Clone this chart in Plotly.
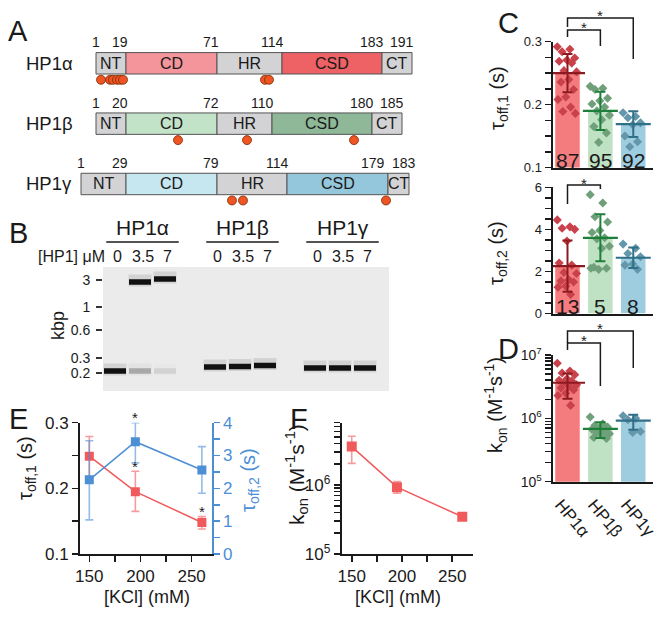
import plotly.graph_objects as go

W, H = 665, 617
FONT = "Liberation Sans, Arial, Helvetica, sans-serif"
INK = "#1a1a1a"


def fx(p):
    return p / W


def fy(p):
    return 1 - p / H


# ---------------- Panel A: domain maps ----------------
isoforms = ["HP1α", "HP1β", "HP1γ"]
domain_names = ["NT", "CD", "HR", "CSD", "CT"]
residues_a = [1, 19, 71, 114, 183, 191]
residues_b = [1, 20, 72, 110, 180, 185]
residues_g = [1, 29, 79, 114, 179, 183]
# schematic (non-linear) drawing coordinates of the same boundaries
schem_a = [96, 126, 217, 282, 382, 412]
schem_b = [96, 126, 217, 272, 372, 402]
schem_g = [81, 126, 217, 287, 388, 409]
sites_a = [101, 110, 113, 117, 120, 123, 265, 269]
sites_b = [178, 247, 354]
sites_g = [232, 243, 386]

# ---------------- Panel B: gel ----------------
gel_groups = ["HP1α", "HP1β", "HP1γ"]
gel_lanes = [1, 2, 3, 5, 6, 7, 9, 10, 11]
gel_conc = ["0", "3.5", "7", "0", "3.5", "7", "0", "3.5", "7"]
ladder_kbp = ["3", "1", "0.6", "0.3", "0.2"]
ladder_mig = [13, 40, 63, 91, 106]
band_lane = [1, 2, 2, 3, 3, 5, 6, 7, 9, 10, 11]
band_mig = [104, 15, 104, 12, 104, 100, 99.5, 98.5, 101, 101, 101]
band_int = [1.0, 1.0, 0.3, 1.0, 0.1, 1.0, 1.0, 1.0, 1.0, 1.0, 1.0]

# ---------------- Panels C / D ----------------
groups = ["HP1α", "HP1β", "HP1γ"]
tau1_mean = [0.250, 0.190, 0.169]
tau1_sd = [0.0305, 0.0305, 0.0205]
tau1_n = [87, 95, 92]
tau1_pts_a = [0.292, 0.288, 0.284, 0.274, 0.271, 0.269, 0.266, 0.254, 0.252,
              0.240, 0.236, 0.224, 0.212, 0.208, 0.196, 0.189, 0.186]
tau1_pts_b = [0.229, 0.226, 0.224, 0.210, 0.206, 0.201, 0.196, 0.190, 0.183,
              0.176, 0.165, 0.155, 0.140]
tau1_pts_g = [0.187, 0.181, 0.179, 0.171, 0.168, 0.150, 0.141, 0.133]

tau2_mean = [2.25, 3.60, 2.65]
tau2_sd = [1.22, 1.12, 0.49]
tau2_n = [13, 5, 8]
tau2_pts_a = [4.45, 4.12, 4.05, 4.0, 3.45, 2.4, 2.3, 1.95, 1.9, 1.6, 1.55,
              1.5, 1.3, 1.25, 0.9]
tau2_pts_b = [5.65, 5.25, 4.6, 4.35, 3.95, 3.85, 3.6, 3.55, 3.2, 3.1, 2.2,
              2.15, 2.1, 2.15]
tau2_pts_g = [3.3, 3.1, 2.85, 2.7, 2.35, 2.3, 2.1]

kon_mean = [3.65e6, 6.8e5, 9.2e5]
kon_hi = [5.1e6, 8.7e5, 1.14e6]
kon_lo = [2.03e6, 4.9e5, 6.6e5]
kon_pts_a = [7.4e6, 5.6e6, 5.2e6, 4.9e6, 4.2e6, 4.0e6, 3.9e6, 3.7e6, 3.4e6,
             3.2e6, 3.0e6, 2.8e6, 2.5e6, 2.3e6, 1.6e6]
kon_pts_b = [1.05e6, 8.2e5, 7.8e5, 7.3e5, 7.0e5, 6.7e5, 6.3e5, 6.0e5, 5.7e5,
             5.4e5, 5.0e5, 4.8e5]
kon_pts_g = [1.1e6, 1.0e6, 9.5e5, 6.2e5, 6.0e5]

# ---------------- Panels E / F ----------------
kcl = [150, 195, 260]
e_tau1 = [0.249, 0.195, 0.148]
e_tau1_hi = [0.279, 0.226, 0.157]
e_tau1_lo = [0.218, 0.165, 0.138]
e_tau1_sig = [False, True, True]
e_tau2 = [2.26, 3.42, 2.56]
e_tau2_hi = [3.45, 4.0, 3.27]
e_tau2_lo = [1.04, 2.78, 1.85]
e_tau2_sig = [False, True, False]
f_kon = [3.6e6, 9.3e5, 3.47e5]
f_kon_hi = [5.1e6, 1.12e6, 3.9e5]
f_kon_lo = [2.06e6, 7.6e5, 3.1e5]
f_kon_sig = [False, True, True]

# ---------------- styles ----------------
GRAY = "#D3D3D5"
seg_colors = [
    [GRAY, "#F4959B", GRAY, "#EE6164", GRAY],
    [GRAY, "#C3E3C8", GRAY, "#8EB897", GRAY],
    [GRAY, "#C6E6F0", GRAY, "#94C7DB", GRAY],
]
bar_colors = ["#F47C7E", "#BFE1C4", "#9DCDDF"]
dot_colors = ["#C9424B", "#6FA07A", "#6497AB"]
err_colors = ["#8C1A20", "#1E7F3A", "#2F6F88"]
RED = "#F05A5D"
BLUE = "#4D8FD5"

fig = go.Figure()
annotations = []
shapes = []


def ann(x, y, text, size, xref="paper", yref="paper", **kw):
    d = dict(x=x, y=y, xref=xref, yref=yref, text=text, showarrow=False,
             xanchor="center", yanchor="middle", borderpad=0,
             font=dict(family=FONT, size=size, color=kw.pop("color", INK)))
    d.update(kw)
    annotations.append(d)


# ================= Panel A =================
residues = [residues_a, residues_b, residues_g]
schems = [schem_a, schem_b, schem_g]
sites = [sites_a, sites_b, sites_g]
for i, (res, sch) in enumerate(zip(residues, schems)):
    starts = sch[:-1]
    lengths = [b - a for a, b in zip(sch[:-1], sch[1:])]
    fig.add_trace(go.Bar(
        y=[i] * 5, x=lengths, base=starts, orientation="h", width=0.355,
        marker=dict(color=seg_colors[i], line=dict(color="#555555", width=1)),
        xaxis="x", yaxis="y", hoverinfo="skip"))
    for k, name in enumerate(domain_names):
        ann((sch[k] + sch[k + 1]) / 2, i, name, 16, xref="x", yref="y")
    for k, (r, s) in enumerate(zip(res, sch)):
        if k == 0:
            ann(s, i, str(r), 14, xref="x", yref="y", yshift=21)
        else:
            shift = 3
            if k == len(sch) - 1:
                shift += max(0, 26 - (sch[-1] - sch[-2]))
            elif k == len(sch) - 2:
                shift -= max(0, 26 - (sch[-1] - sch[-2]))
            ann(s, i, str(r), 14, xref="x", yref="y", xanchor="right",
                xshift=shift, yshift=21)
    ann(25, i, isoforms[i], 18.5, xref="x", yref="y", xanchor="left")
    fig.add_trace(go.Scatter(
        x=sites[i], y=[i + 0.273] * len(sites[i]), mode="markers",
        marker=dict(size=9, color="#EE5522", line=dict(color="#7A2A08", width=0.8)),
        xaxis="x", yaxis="y", hoverinfo="skip"))

# ================= Panel B =================
shapes.append(dict(type="rect", xref="x2 domain", yref="y2 domain", x0=0, x1=1,
                   y0=0, y1=1, fillcolor="#EBEBEB", line=dict(width=0),
                   layer="below"))
for ln, mg, it in zip(band_lane, band_mig, band_int):
    halo = "rgba(0,0,0,%.3f)" % (0.10 * it)
    fig.add_trace(go.Scatter(
        x=[ln - 0.46, ln + 0.46], y=[mg - 1.5, mg - 1.5], mode="lines",
        line=dict(color=halo, width=12), xaxis="x2", yaxis="y2",
        hoverinfo="skip"))
    g = int(round(232 - 215 * it))
    fig.add_trace(go.Scatter(
        x=[ln - 0.44, ln + 0.44], y=[mg, mg], mode="lines",
        line=dict(color="rgb(%d,%d,%d)" % (g, g, g), width=5.5),
        xaxis="x2", yaxis="y2", hoverinfo="skip"))
for gi, gname in enumerate(gel_groups):
    lanes = gel_lanes[gi * 3:(gi + 1) * 3]
    c = sum(lanes) / 3
    ann(c + 0.1, fy(228), gname, 21, xref="x2")
    shapes.append(dict(type="line", xref="x2", yref="paper", x0=c - 1.35,
                       x1=c + 1.55, y0=fy(242), y1=fy(242),
                       line=dict(color=INK, width=1.5)))
for ln, cc in zip(gel_lanes, gel_conc):
    ann(ln + 0.1, fy(256), cc, 16, xref="x2")
ann(fx(106), fy(256), "[HP1] μM", 16, xanchor="right")
ann(fx(58), fy(326), "kbp", 18, textangle=-90)

# ================= Panels C / D =================
def jitter(n):
    return [(((k * 0.618034) % 1.0) - 0.5) * 0.62 for k in range(n)]


def bar_panel(xa, ya, means, lo, hi, pts_list):
    for g in range(3):
        fig.add_trace(go.Bar(
            x=[g], y=[means[g]], width=0.745, marker=dict(color=bar_colors[g], line=dict(width=0)),
            xaxis=xa, yaxis=ya, hoverinfo="skip"))
    for g in range(3):
        pts = pts_list[g]
        fig.add_trace(go.Scatter(
            x=[g + j for j in jitter(len(pts))], y=pts, mode="markers",
            marker=dict(symbol="diamond", size=7, color=dot_colors[g]),
            xaxis=xa, yaxis=ya, hoverinfo="skip"))
    for g in range(3):
        fig.add_trace(go.Scatter(
            x=[g], y=[means[g]], mode="markers",
            marker=dict(symbol="line-ew", size=25,
                        line=dict(color=err_colors[g], width=2.2)),
            error_y=dict(type="data", symmetric=False,
                         array=[hi[g] - means[g]], arrayminus=[means[g] - lo[g]],
                         color=err_colors[g], thickness=2, width=5),
            xaxis=xa, yaxis=ya, hoverinfo="skip"))


bar_panel("x3", "y3", tau1_mean,
          [m - s for m, s in zip(tau1_mean, tau1_sd)],
          [m + s for m, s in zip(tau1_mean, tau1_sd)],
          [tau1_pts_a, tau1_pts_b, tau1_pts_g])
bar_panel("x4", "y4", tau2_mean,
          [m - s for m, s in zip(tau2_mean, tau2_sd)],
          [m + s for m, s in zip(tau2_mean, tau2_sd)],
          [tau2_pts_a, tau2_pts_b, tau2_pts_g])
bar_panel("x5", "y5", kon_mean, kon_lo, kon_hi,
          [kon_pts_a, kon_pts_b, kon_pts_g])

for g in range(3):
    ann(g, fy(160), str(tau1_n[g]), 21, xref="x3")
    ann(g, fy(306), str(tau2_n[g]), 21, xref="x4")
    # rotated category labels under panel D
    ann(g, fy(518), groups[g], 17, xref="x5", textangle=50, xshift=5)


def bracket(xa, i, j, ytop, yi, yj, ystar):
    shapes.append(dict(type="path", xref=xa, yref="paper",
                       path="M %g,%g L %g,%g L %g,%g L %g,%g" % (
                           i, fy(yi), i, fy(ytop), j, fy(ytop), j, fy(yj)),
                       line=dict(color=INK, width=1.5)))
    ann((i + j) / 2, fy(ystar), "*", 15, xref=xa)


bracket("x3", 0, 1, 30, 37, 46, 27)
bracket("x3", 0, 2, 18, 27, 59, 15)
bracket("x4", 0, 1, 185, 204, 189, 183)
bracket("x5", 0, 1, 343, 350, 386, 340)
bracket("x5", 0, 2, 331, 343, 368, 328)

ann(fx(498), fy(98), "τ<sub>off,1</sub> (s)", 20, textangle=-90)
ann(fx(497), fy(253), "τ<sub>off,2</sub> (s)", 20, textangle=-90)
ann(fx(495), fy(405), "k<sub>on</sub> (M<sup>-1</sup>s<sup>-1</sup>)", 20, textangle=-90)

# ================= Panel E =================
fig.add_trace(go.Scatter(
    x=kcl, y=e_tau1, mode="lines+markers",
    line=dict(color=RED, width=1.5), marker=dict(symbol="square", size=9, color=RED),
    error_y=dict(type="data", symmetric=False,
                 array=[h - m for h, m in zip(e_tau1_hi, e_tau1)],
                 arrayminus=[m - l for m, l in zip(e_tau1, e_tau1_lo)],
                 color="rgba(240,90,93,0.6)", thickness=1.6, width=4),
    xaxis="x6", yaxis="y6", hoverinfo="skip"))
fig.add_trace(go.Scatter(
    x=kcl, y=e_tau2, mode="lines+markers",
    line=dict(color=BLUE, width=1.5), marker=dict(symbol="square", size=9, color=BLUE),
    error_y=dict(type="data", symmetric=False,
                 array=[h - m for h, m in zip(e_tau2_hi, e_tau2)],
                 arrayminus=[m - l for m, l in zip(e_tau2, e_tau2_lo)],
                 color="rgba(77,143,213,0.6)", thickness=1.6, width=4),
    xaxis="x6", yaxis="y7", hoverinfo="skip"))
for xv, hv, s in zip(kcl, e_tau1_hi, e_tau1_sig):
    if s:
        ann(xv, hv, "*", 15, xref="x6", yref="y6", yshift=5)
for xv, hv, s in zip(kcl, e_tau2_hi, e_tau2_sig):
    if s:
        ann(xv, hv, "*", 15, xref="x6", yref="y7", yshift=5)

ann(fx(26), fy(468), "τ<sub>off,1</sub> (s)", 20, textangle=-90)
ann(fx(249), fy(480), "τ<sub>off,2</sub> (s)", 20, textangle=-90, color=BLUE)
ann(fx(147), fy(597), "[KCl] (mM)", 18)

# ================= Panel F =================
fig.add_trace(go.Scatter(
    x=kcl, y=f_kon, mode="lines+markers",
    line=dict(color=RED, width=1.5), marker=dict(symbol="square", size=10, color=RED),
    error_y=dict(type="data", symmetric=False,
                 array=[h - m for h, m in zip(f_kon_hi, f_kon)],
                 arrayminus=[m - l for m, l in zip(f_kon, f_kon_lo)],
                 color="rgba(240,90,93,0.6)", thickness=1.6, width=4),
    xaxis="x8", yaxis="y8", hoverinfo="skip"))
for xv, hv, s in zip(kcl, f_kon_hi, f_kon_sig):
    if s:
        ann(xv, hv, "*", 15, xref="x8", yref="y8", yshift=8)
ann(fx(297), fy(475), "k<sub>on</sub> (M<sup>-1</sup>s<sup>-1</sup>)", 21, textangle=-90)
ann(fx(398), fy(597), "[KCl] (mM)", 18)

# ================= panel letters =================
for letter, (lx, ly) in zip("ABCDEF", [(18, 31), (18, 233), (508, 23),
                                       (508, 349), (18, 419), (299, 419)]):
    ann(fx(lx), fy(ly), letter, 29)

# ================= axes =================
hidden = dict(visible=False, showgrid=False, zeroline=False, fixedrange=True,
              automargin=False)
tickf = lambda s, c=INK: dict(family=FONT, size=s, color=c)
axis_common = dict(showgrid=False, zeroline=False, showline=True, linecolor=INK,
                   linewidth=2, ticks="outside", ticklen=6, tickwidth=1.5,
                   tickcolor=INK, automargin=False)
xbar_common = dict(showgrid=False, zeroline=False, showline=True, linecolor=INK,
                   linewidth=2, ticks="", automargin=False, showticklabels=False)

CX = [fx(552.5), fx(653)]
log_ticks = [m * 10 ** e for e in (5, 6) for m in range(1, 10)] + [1e7]
log_text = ["10<sup>%d</sup>" % (5 + i // 9) if i % 9 == 0 else "" for i in range(18)] + ["10<sup>7</sup>"]

layout_axes = dict(
    xaxis=dict(domain=[0, fx(440)], range=[0, 440], anchor="y", **hidden),
    yaxis=dict(domain=[fy(210), 1], range=[2.431, -1.049], anchor="x", **hidden),
    xaxis2=dict(domain=[fx(103), fx(389)], range=[0.52, 11.96], anchor="y2", **hidden),
    yaxis2=dict(domain=[fy(391), fy(267)], range=[124, 0], anchor="x2",
                showgrid=False, zeroline=False, showline=False, ticks="outside",
                ticklen=6, tickwidth=1.3, tickcolor="#333333",
                tickvals=ladder_mig, ticktext=ladder_kbp, tickfont=tickf(14),
                ticklabelstandoff=3, automargin=False),
    xaxis3=dict(domain=CX, range=[-0.456, 2.6], anchor="y3", **xbar_common),
    yaxis3=dict(domain=[fy(167.5), fy(41.7)], range=[0.1, 0.3], anchor="x3",
                tickvals=[0.1 + 0.025 * k for k in range(9)],
                ticktext=["0.1", "", "", "", "0.2", "", "", "", "0.3"],
                tickfont=tickf(13), **axis_common),
    xaxis4=dict(domain=CX, range=[-0.456, 2.6], anchor="y4", **xbar_common),
    yaxis4=dict(domain=[fy(313.5), fy(187.3)], range=[0, 6], anchor="x4",
                tickvals=[0.5 * k for k in range(13)],
                ticktext=[str(k // 2) if k % 4 == 0 else "" for k in range(13)],
                tickfont=tickf(13), **axis_common),
    xaxis5=dict(domain=CX, range=[-0.456, 2.6], anchor="y5", **xbar_common),
    yaxis5=dict(domain=[fy(481.7), fy(355)], type="log", range=[5, 7], anchor="x5",
                tickvals=log_ticks, ticktext=log_text, tickfont=tickf(14),
                **axis_common),
    xaxis6=dict(domain=[fx(80), fx(211.7)], range=[140.9, 269.6], anchor="y6",
                tickvals=[150, 175, 200, 225, 250],
                ticktext=["150", "", "200", "", "250"], tickfont=tickf(17),
                **axis_common),
    yaxis6=dict(domain=[fy(554), fy(422.7)], range=[0.1, 0.3], anchor="x6",
                tickvals=[0.1, 0.15, 0.2, 0.25, 0.3],
                ticktext=["0.1", "", "0.2", "", "0.3"], tickfont=tickf(17),
                **axis_common),
    yaxis7=dict(range=[0, 4], anchor="x6", overlaying="y6", side="right",
                showgrid=False, zeroline=False, showline=True, linecolor=BLUE,
                linewidth=2, ticks="outside", ticklen=6, tickwidth=1.5,
                tickcolor=BLUE, tickvals=[0.5 * k for k in range(9)],
                ticktext=[str(k // 2) if k % 2 == 0 else "" for k in range(9)],
                tickfont=tickf(17, BLUE), automargin=False),
    xaxis8=dict(domain=[fx(341.7), fx(473.3)], range=[140, 271], anchor="y8",
                tickvals=[150, 175, 200, 225, 250],
                ticktext=["150", "", "200", "", "250"], tickfont=tickf(17),
                **axis_common),
    yaxis8=dict(domain=[fy(554), fy(422.7)], type="log", range=[5, 6.903],
                anchor="x8",
                tickvals=[m * 10 ** e for e in (5, 6) for m in range(1, 10)],
                ticktext=["10<sup>%d</sup>" % (5 + i // 9) if i % 9 == 0 else ""
                          for i in range(18)],
                tickfont=tickf(17), **axis_common),
)

fig.update_layout(
    template="none",
    width=W, height=H, autosize=False,
    margin=dict(l=0, r=0, t=0, b=0, pad=0),
    paper_bgcolor="white", plot_bgcolor="rgba(0,0,0,0)",
    showlegend=False, barmode="overlay",
    font=dict(family=FONT, color=INK),
    annotations=annotations, shapes=shapes,
    **layout_axes,
)

fig.write_html("out.html", include_plotlyjs=True,
               config={"displayModeBar": False, "staticPlot": True},
               post_script="document.body.style.margin='0px';"
                           "document.body.style.padding='0px';"
                           "document.body.style.overflow='hidden';")
